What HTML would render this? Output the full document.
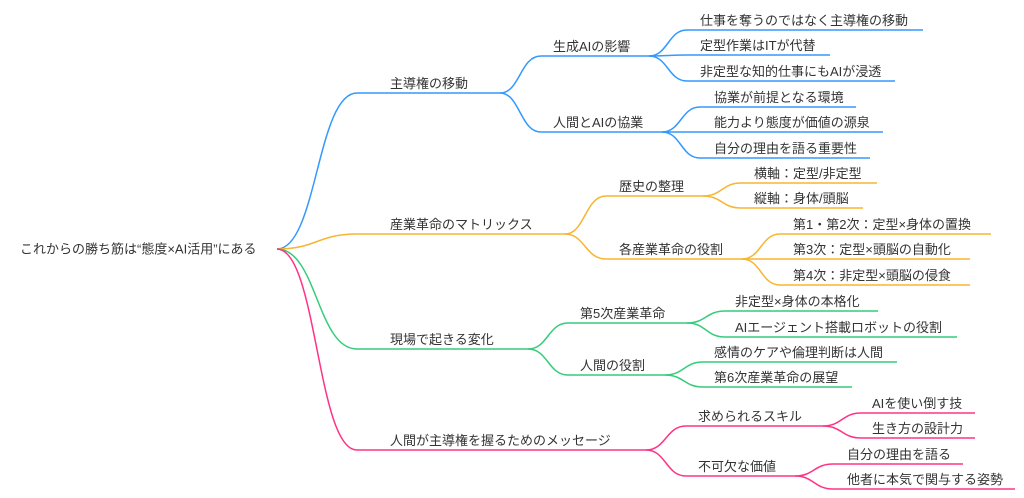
<!DOCTYPE html>
<html><head><meta charset="utf-8"><style>
html,body{margin:0;padding:0;background:#fff;}
svg{display:block;}
text{font-family:"Liberation Sans","Noto Sans CJK JP",sans-serif;font-size:13px;fill:#333;}
path{fill:none;stroke-width:1.5;}
.b{stroke:#3399ff}.o{stroke:#f7b531}.g{stroke:#35cc7a}.p{stroke:#ff3385}
</style></head><body>
<svg width="1024" height="498" viewBox="0 0 1024 498" xmlns="http://www.w3.org/2000/svg">
<!-- level 1 -->
<path class="b" d="M277,249 C317,249 317,93 357,93 H500"/>
<path class="o" d="M277,249 C317,249 317,234 357,234 H565"/>
<path class="g" d="M277,249 C317,249 317,349 357,349 H528"/>
<path class="p" d="M277,249 C317,249 317,450 357,450 H646"/>
<!-- level 2 -->
<path class="b" d="M500,93 C520,93 520,56 541,56 H649"/>
<path class="b" d="M500,93 C520,93 520,132 541,132 H662"/>
<path class="o" d="M565,234 C585,234 585,196 606,196 H703"/>
<path class="o" d="M565,234 C585,234 585,259 606,259 H742"/>
<path class="g" d="M528,349 C548,349 548,323 568,323 H687"/>
<path class="g" d="M528,349 C548,349 548,375 568,375 H665"/>
<path class="p" d="M646,450 C666,450 666,426 686,426 H823"/>
<path class="p" d="M646,450 C666,450 666,476 686,476 H795"/>
<!-- level 3 -->
<path class="b" d="M649,56 C668,56 668,30 687,30 H923"/>
<path class="b" d="M649,56 C668,56 668,55 687,55 H830"/>
<path class="b" d="M649,56 C668,56 668,81 687,81 H895"/>
<path class="b" d="M662,132 C681,132 681,107 700,107 H856"/>
<path class="b" d="M662,132 C681,132 681,132 700,132 H883"/>
<path class="b" d="M662,132 C681,132 681,158 700,158 H870"/>
<path class="o" d="M703,196 C722,196 722,183 741,183 H877"/>
<path class="o" d="M703,196 C722,196 722,208 741,208 H863"/>
<path class="o" d="M742,259 C761,259 761,234 780,234 H991"/>
<path class="o" d="M742,259 C761,259 761,259 780,259 H970"/>
<path class="o" d="M742,259 C761,259 761,285 780,285 H970"/>
<path class="g" d="M687,323 C706,323 706,311 725,311 H878"/>
<path class="g" d="M687,323 C706,323 706,337 725,337 H957"/>
<path class="g" d="M665,375 C684,375 684,362 703,362 H897"/>
<path class="g" d="M665,375 C684,375 684,387 703,387 H852"/>
<path class="p" d="M823,426 C842,426 842,413 861,413 H975"/>
<path class="p" d="M823,426 C842,426 842,438 861,438 H975"/>
<path class="p" d="M795,476 C814,476 814,464 833,464 H963"/>
<path class="p" d="M795,476 C814,476 814,489 833,489 H1015"/>

<!-- texts -->
<text x="20" y="253.5">これからの勝ち筋は“態度×AI活用”にある</text>

<text x="390" y="88">主導権の移動</text>
<text x="390" y="229">産業革命のマトリックス</text>
<text x="390" y="344">現場で起きる変化</text>
<text x="390" y="445">人間が主導権を握るためのメッセージ</text>

<text x="553" y="51">生成AIの影響</text>
<text x="553" y="127">人間とAIの協業</text>
<text x="619" y="191">歴史の整理</text>
<text x="619" y="254">各産業革命の役割</text>
<text x="580" y="318">第5次産業革命</text>
<text x="580" y="370">人間の役割</text>
<text x="698" y="421">求められるスキル</text>
<text x="698" y="471">不可欠な価値</text>

<text x="700" y="25">仕事を奪うのではなく主導権の移動</text>
<text x="700" y="50">定型作業はITが代替</text>
<text x="700" y="76">非定型な知的仕事にもAIが浸透</text>
<text x="714" y="102">協業が前提となる環境</text>
<text x="714" y="127">能力より態度が価値の源泉</text>
<text x="714" y="153">自分の理由を語る重要性</text>
<text x="754" y="178">横軸：定型/非定型</text>
<text x="754" y="203">縦軸：身体/頭脳</text>
<text x="793" y="229">第1・第2次：定型×身体の置換</text>
<text x="793" y="254">第3次：定型×頭脳の自動化</text>
<text x="793" y="280">第4次：非定型×頭脳の侵食</text>
<text x="735" y="306">非定型×身体の本格化</text>
<text x="735" y="332">AIエージェント搭載ロボットの役割</text>
<text x="714" y="357">感情のケアや倫理判断は人間</text>
<text x="714" y="382">第6次産業革命の展望</text>
<text x="872" y="408">AIを使い倒す技</text>
<text x="872" y="433">生き方の設計力</text>
<text x="847" y="459">自分の理由を語る</text>
<text x="847" y="484">他者に本気で関与する姿勢</text>
</svg>
</body></html>
